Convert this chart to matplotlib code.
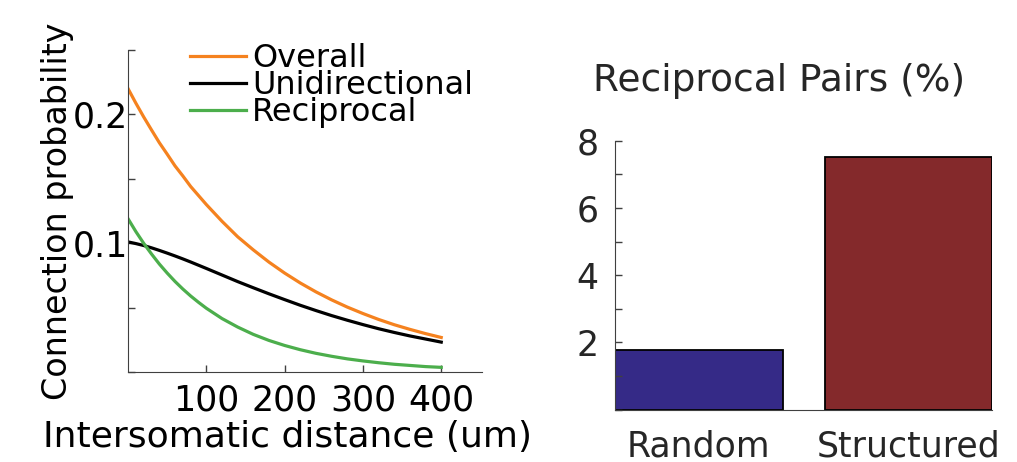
import numpy as np
import matplotlib
matplotlib.use('Agg')
import matplotlib.pyplot as plt
from matplotlib.ticker import MultipleLocator

# distance (um) and connection probabilities
distance = [0, 10, 20, 30, 40, 50, 60, 70, 80, 90, 100, 120, 140, 160, 180, 200,
            220, 240, 260, 280, 300, 320, 340, 360, 380, 400]
p_overall = [0.220, 0.2087, 0.198, 0.1879, 0.178, 0.1691, 0.160, 0.1522, 0.144, 0.137, 0.130,
             0.117, 0.105, 0.0948, 0.0853, 0.0768,
             0.0691, 0.0622, 0.0560, 0.0504, 0.0454, 0.0408, 0.0367, 0.0331, 0.0298, 0.0268]
p_unidir = [0.101, 0.0997, 0.0982, 0.0964, 0.0944, 0.0923, 0.0901, 0.0878, 0.0854, 0.0829, 0.0804,
            0.0753, 0.0702, 0.0654, 0.0607, 0.0562,
            0.0518, 0.0477, 0.0438, 0.0402, 0.0368, 0.0336, 0.0307, 0.0280, 0.0256, 0.0232]
p_recip = [0.119, 0.109, 0.0999, 0.0916, 0.0838, 0.0768, 0.0703, 0.0644, 0.0590, 0.0541, 0.0495,
           0.0415, 0.0349, 0.0292, 0.0245, 0.0206,
           0.0173, 0.0145, 0.0122, 0.0102, 0.0086, 0.0072, 0.0060, 0.0051, 0.0042, 0.0036]

# reciprocal pairs bar chart
networks = ['Random', 'Structured']
recip_pct = [1.78, 7.52]
bar_colors = ['#352a87', '#84292b']

plt.rcParams['font.family'] = 'DejaVu Sans'

fig = plt.figure(figsize=(10.17, 4.62), dpi=100)

# left panel: connection probability vs distance
ax1 = fig.add_axes([0.1259, 0.1948, 0.348, 0.697])
ax1.plot(distance, p_overall, color='#f5821f', lw=2.3, label='Overall')
ax1.plot(distance, p_unidir, color='black', lw=2.3, label='Unidirectional')
ax1.plot(distance, p_recip, color='#4cae4c', lw=2.3, label='Reciprocal')
ax1.set_xlim(0, 452)
ax1.set_ylim(0, 0.25)
ax1.set_xticks([100, 200, 300, 400])
ax1.set_yticks([0.1, 0.2])
ax1.set_yticklabels(['0.1', '0.2'])
ax1.yaxis.set_minor_locator(MultipleLocator(0.05))
ax1.tick_params(axis='both', which='both', direction='in', length=5, width=1, color='#404040')
ax1.tick_params(axis='x', labelsize=25, pad=8)
ax1.tick_params(axis='y', labelsize=25, pad=0)
for s in ['top', 'right']:
    ax1.spines[s].set_visible(False)
for s in ['left', 'bottom']:
    ax1.spines[s].set_color('#404040')
ax1.set_xlabel('Intersomatic distance (um)', fontsize=26)
ax1.xaxis.set_label_coords(0.45, -0.15)
ax1.set_ylabel('Connection probability', fontsize=24)
ax1.yaxis.set_label_coords(-0.152, 0.5)
leg = ax1.legend(loc='upper left', bbox_to_anchor=(190 / 1017, 1 - 43 / 462),
                 bbox_transform=fig.transFigure, frameon=False, fontsize=23,
                 handlelength=1.75, handletextpad=0.2, labelspacing=-0.12,
                 borderpad=0, borderaxespad=0)

# right panel: reciprocal pairs
ax2 = fig.add_axes([0.6047, 0.1132, 0.371, 0.5823])
ax2.bar([1, 2], recip_pct, width=0.8, color=bar_colors, edgecolor='black', linewidth=1.3)
ax2.set_xlim(0.6, 2.4)
ax2.set_ylim(0, 8)
ax2.set_xticks([1, 2])
ax2.set_xticklabels(networks)
ax2.set_yticks([2, 4, 6, 8])
ax2.yaxis.set_minor_locator(MultipleLocator(1))
ax2.tick_params(axis='y', which='both', direction='in', length=5, width=1,
                color='#404040', labelsize=25, labelcolor='#262626', pad=12)
ax2.tick_params(axis='x', length=0, labelsize=25, labelcolor='#262626', pad=14)
for s in ['top', 'right']:
    ax2.spines[s].set_visible(False)
for s in ['left', 'bottom']:
    ax2.spines[s].set_color('#404040')
ax2.set_title('Reciprocal Pairs (%)', fontsize=27, color='#262626', x=0.435, pad=36)

fig.savefig('out.png', dpi=100)
